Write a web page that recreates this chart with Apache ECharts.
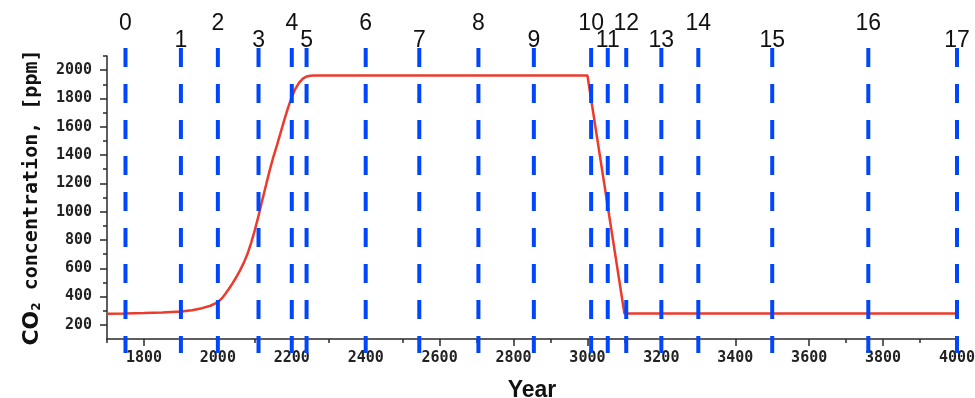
<!DOCTYPE html>
<html>
<head>
<meta charset="utf-8">
<script src="https://cdn.jsdelivr.net/npm/echarts@6/dist/echarts.min.js"></script>
<style>html,body{margin:0;padding:0;background:#fff}#c{width:975px;height:398px}</style>
</head>
<body>
<div id="c"></div>
<script>
// CO2 concentration curve
const years = [1700,1750,1800,1850,1900,1930,1957,1980,2000,2010,2020,2030,2040,2050,2060,2070,2080,2090,2100,2110,2120,2130,2140,2150,2160,2170,2180,2190,2200,2210,2220,2230,2240,2250,2260,3000,3100,4000];
const co2   = [278, 280, 283, 287, 294, 303, 318, 335, 360, 385, 418, 455, 495, 538, 585, 638, 700, 780, 870, 970, 1080,1185,1290,1385,1470,1560,1650,1735,1811,1870,1912,1940,1955,1960,1962,1962,280, 280];
// Numbered vertical markers
const markerYears  = [1750,1900,2000,2110,2200,2240,2400,2545,2705,2855,3010,3055,3105,3200,3300,3500,3760,4000];
const markerLabels = ['0','1','2','3','4','5','6','7','8','9','10','11','12','13','14','15','16','17'];
// Axis ticks
const xTicks      = [1800,2000,2200,2400,2600,2800,3000,3200,3400,3600,3800,4000];
const xMinorTicks = [1700,1900,2100,2300,2500,2700,2900,3100,3300,3500,3700,3900];
const yTicks      = [200,400,600,800,1000,1200,1400,1600,1800,2000];
const yMinorTicks = [300,500,700,900,1100,1300,1500,1700,1900,2100];

const chart = echarts.init(document.getElementById('c'), null, {renderer: 'canvas'});
const axisColor = '#2a2a2a';
const monoFont = 'DejaVu Sans Mono';

const markerLineSeries = markerYears.map((yr, i) => ({
  type: 'line',
  xAxisIndex: 2, yAxisIndex: 2,
  clip: false,
  z: 5,
  showSymbol: false,
  lineStyle: {color: '#0046ff', width: 4, type: [19, 17]},
  data: [[yr, 1], [yr, 0]],
  emphasis: {disabled: true}
}));

const markerLabelSeries = {
  type: 'scatter',
  xAxisIndex: 2, yAxisIndex: 2,
  clip: false,
  z: 6,
  symbolSize: 1,
  itemStyle: {color: 'rgba(0,0,0,0)'},
  labelLayout: {hideOverlap: false},
  data: markerYears.map((yr, i) => ({
    value: [yr, 1],
    label: {
      show: true, position: 'top', formatter: markerLabels[i],
      distance: (i % 2 === 0) ? 12 : -5, opacity: 1,
      fontFamily: 'Liberation Sans', fontSize: 23, color: '#111'
    }
  })),
  emphasis: {disabled: true}
};

const plain = v => String(v);

const option = {
  animation: false,
  backgroundColor: '#fff',
  grid: [
    {left: 107, right: 18, top: 56, bottom: 59, outerBoundsMode: 'none', containLabel: false},
    {left: 107, right: 18, top: 48, bottom: 45, outerBoundsMode: 'none', containLabel: false}
  ],
  xAxis: [
    {
      type: 'value', gridIndex: 0, min: 1700, max: 4000, position: 'bottom',
      name: 'Year', nameLocation: 'middle', nameGap: 40,
      nameTextStyle: {fontFamily: 'Liberation Sans', fontWeight: 'bold', fontSize: 23, color: '#111'},
      axisLine: {show: true, onZero: false, lineStyle: {color: axisColor, width: 1.5}},
      axisTick: {show: true, inside: false, length: 7, customValues: xTicks, lineStyle: {color: axisColor, width: 1.5}},
      axisLabel: {show: true, customValues: xTicks, formatter: plain, margin: 12, fontFamily: monoFont, fontWeight: 'bold', fontSize: 15, color: '#222'},
      splitLine: {show: false}
    },
    {
      type: 'value', gridIndex: 0, min: 1700, max: 4000, position: 'bottom',
      axisLine: {show: false, onZero: false},
      axisTick: {show: true, inside: false, length: 4, customValues: xMinorTicks, lineStyle: {color: axisColor, width: 1.5}},
      axisLabel: {show: false},
      splitLine: {show: false}
    },
    {
      type: 'value', gridIndex: 1, min: 1700, max: 4000, show: false
    }
  ],
  yAxis: [
    {
      type: 'value', gridIndex: 0, min: 100, max: 2100, position: 'left',
      name: '{co|CO}{sub|2}{m| concentration, [ppm]}',
      nameLocation: 'middle', nameGap: 64, nameRotate: 90,
      nameTextStyle: {
        rich: {
          co: {fontFamily: 'DejaVu Sans', fontWeight: 'bold', fontSize: 22, color: '#111'},
          sub: {fontFamily: 'DejaVu Sans', fontWeight: 'bold', fontSize: 12, color: '#111', verticalAlign: 'bottom', padding: [10, 0, 0, 0]},
          m: {fontFamily: monoFont, fontWeight: 'bold', fontSize: 20, color: '#111'}
        }
      },
      axisLine: {show: true, onZero: false, lineStyle: {color: axisColor, width: 1.5}},
      axisTick: {show: true, inside: false, length: 7, customValues: yTicks, lineStyle: {color: axisColor, width: 1.5}},
      axisLabel: {show: true, customValues: yTicks, formatter: plain, margin: 15, fontFamily: monoFont, fontWeight: 'bold', fontSize: 15, color: '#222'},
      splitLine: {show: false}
    },
    {
      type: 'value', gridIndex: 0, min: 100, max: 2100, position: 'left',
      axisLine: {show: false, onZero: false},
      axisTick: {show: true, inside: false, length: 4, customValues: yMinorTicks, lineStyle: {color: axisColor, width: 1.5}},
      axisLabel: {show: false},
      splitLine: {show: false}
    },
    {
      type: 'value', gridIndex: 1, min: 0, max: 1, show: false
    }
  ],
  series: [
    {
      type: 'line',
      xAxisIndex: 0, yAxisIndex: 0,
      z: 3,
      showSymbol: false,
      lineStyle: {color: '#ec3b2c', width: 2.5},
      data: years.map((y, i) => [y, co2[i]]),
      emphasis: {disabled: true}
    }
  ].concat(markerLineSeries, [markerLabelSeries])
};
chart.setOption(option);
</script>
</body>
</html>
